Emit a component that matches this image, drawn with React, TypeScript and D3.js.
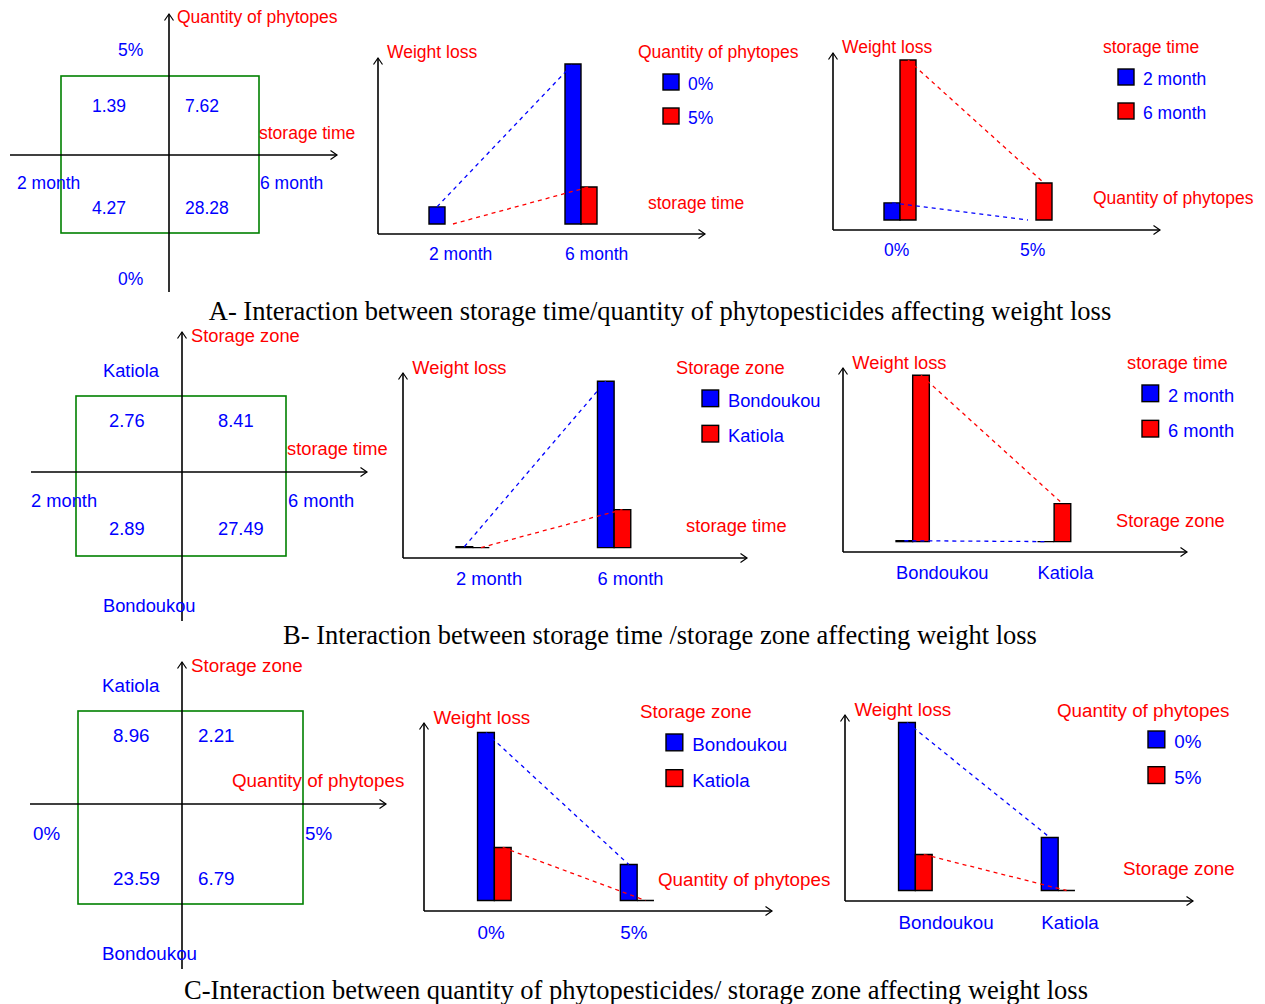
import React from "react";
import * as d3 from "d3";

// ---- categories ----
const storageTime = ["2 month", "6 month"];
const phytoQty = ["0%", "5%"];
const storageZone = ["Bondoukou", "Katiola"];

// ---- weight loss means ----
// A: by quantity of phytopesticides, values per storage time (2 month, 6 month)
const lossA_qty0 = [4.27, 28.28];
const lossA_qty5 = [1.39, 7.62];
// B: by storage zone, values per storage time (2 month, 6 month)
const lossB_bondoukou = [2.89, 27.49];
const lossB_katiola = [2.76, 8.41];
// C: by storage zone, values per quantity (0%, 5%)
const lossC_bondoukou = [23.59, 6.79];
const lossC_katiola = [8.96, 2.21];

const captions = [
  "A- Interaction between storage time/quantity of phytopesticides affecting weight loss",
  "B- Interaction between storage time /storage zone affecting weight loss",
  "C-Interaction between quantity of phytopesticides/ storage zone affecting weight loss",
];

const BLUE = "#0000ff";
const RED = "#ff0000";
const GREEN = "#008000";
const FONT = "'Liberation Sans', Arial, sans-serif";
const SERIES_COLORS = [BLUE, RED];

// ---- layouts ----
const quadLayouts = [
  { vx: 169, vTop: 14, vBottom: 292, hy: 155, hLeft: 10, hRight: 337, rect: [61, 76, 259, 233], yTitle: [177, 17], xTitle: [259, 133], topCat: [118, 50], bottomCat: [118, 279], leftCat: [17, 183], rightCat: [260, 183], colX: [92, 185], rowY: [208, 106], fs: 17.5 },
  { vx: 182, vTop: 332, vBottom: 621, hy: 472, hLeft: 31, hRight: 367, rect: [76, 396, 286, 556], yTitle: [191, 335], xTitle: [287, 448], topCat: [103, 370], bottomCat: [103, 605], leftCat: [31, 500], rightCat: [288, 500], colX: [109, 218], rowY: [528, 420], fs: 18.3 },
  { vx: 182, vTop: 662, vBottom: 969, hy: 804, hLeft: 30, hRight: 386, rect: [78, 711, 303, 904], yTitle: [191, 665], xTitle: [232, 780], topCat: [102, 685], bottomCat: [102, 953], leftCat: [33, 833], rightCat: [305, 833], colX: [113, 198], rowY: [878, 735], fs: 18.8 },
];

const barLayouts = [
  { x0: 378, yTop: 58, yAxis: 234, xEnd: 705, s: 1, xTitle: [648, 203], legTitle: [638, 52], swatchX: 663, swatchY: 74, fs: 17.5, showZero: false },
  { x0: 833, yTop: 53, yAxis: 230, xEnd: 1160, s: 1, xTitle: [1093, 198], legTitle: [1103, 47], swatchX: 1118, swatchY: 69, fs: 17.5, showZero: false },
  { x0: 403, yTop: 373, yAxis: 558, xEnd: 747, s: 1.04, xTitle: [686, 525], legTitle: [676, 367], swatchX: 702, swatchY: 390, fs: 18.3, showZero: true },
  { x0: 843, yTop: 368, yAxis: 552, xEnd: 1187, s: 1.04, xTitle: [1116, 520], legTitle: [1127, 362], swatchX: 1142, swatchY: 385, fs: 18.3, showZero: true },
  { x0: 424, yTop: 723, yAxis: 911, xEnd: 772, s: 1.05, xTitle: [658, 879], legTitle: [640, 711], swatchX: 666, swatchY: 734, fs: 18.8, showZero: true },
  { x0: 845, yTop: 715, yAxis: 901, xEnd: 1193, s: 1.05, xTitle: [1123, 868], legTitle: [1057, 710], swatchX: 1148, swatchY: 731, fs: 18.8, showZero: true },
];

const captionPos = [
  [660, 311],
  [660, 635],
  [636, 990],
];

type Series = { name: string; values: number[] };

function T({ x, y, fill, fs, children, anchor = "start" }: any) {
  return (
    <text x={x} y={y} fill={fill} fontSize={fs} fontFamily={FONT} dominantBaseline="central" textAnchor={anchor}>
      {children}
    </text>
  );
}

function UpArrowAxis({ x, y1, y2 }: any) {
  return (
    <g stroke="#000" strokeWidth={1.6} fill="none">
      <line x1={x} y1={y2} x2={x} y2={y1} />
      <path d={`M${x - 4.5},${y1 + 6.5}L${x},${y1}L${x + 4.5},${y1 + 6.5}`} strokeWidth={1.2} />
    </g>
  );
}

function RightArrowAxis({ y, x1, x2 }: any) {
  return (
    <g stroke="#000" strokeWidth={1.6} fill="none">
      <line x1={x1} y1={y} x2={x2} y2={y} />
      <path d={`M${x2 - 6.5},${y - 4.5}L${x2},${y}L${x2 - 6.5},${y + 4.5}`} strokeWidth={1.2} />
    </g>
  );
}

function QuadPanel({ L, xCats, yCats, matrix, xTitle, yTitle }: any) {
  const fmt = d3.format(".2f");
  const [rx1, ry1, rx2, ry2] = L.rect;
  return (
    <g>
      <rect x={rx1} y={ry1} width={rx2 - rx1} height={ry2 - ry1} fill="none" stroke={GREEN} strokeWidth={1.6} />
      <UpArrowAxis x={L.vx} y1={L.vTop} y2={L.vBottom} />
      <RightArrowAxis y={L.hy} x1={L.hLeft} x2={L.hRight} />
      <T x={L.yTitle[0]} y={L.yTitle[1]} fill={RED} fs={L.fs}>{yTitle}</T>
      <T x={L.xTitle[0]} y={L.xTitle[1]} fill={RED} fs={L.fs}>{xTitle}</T>
      <T x={L.topCat[0]} y={L.topCat[1]} fill={BLUE} fs={L.fs}>{yCats[1]}</T>
      <T x={L.bottomCat[0]} y={L.bottomCat[1]} fill={BLUE} fs={L.fs}>{yCats[0]}</T>
      <T x={L.leftCat[0]} y={L.leftCat[1]} fill={BLUE} fs={L.fs}>{xCats[0]}</T>
      <T x={L.rightCat[0]} y={L.rightCat[1]} fill={BLUE} fs={L.fs}>{xCats[1]}</T>
      {matrix.map((row: number[], ri: number) =>
        row.map((v: number, ci: number) => (
          <T key={`${ri}-${ci}`} x={L.colX[ci]} y={L.rowY[ri]} fill={BLUE} fs={L.fs}>{fmt(v)}</T>
        ))
      )}
    </g>
  );
}

function BarPanel({ L, groups, series, legendTitle, xTitle }: { L: any; groups: string[]; series: Series[]; legendTitle: string; xTitle: string }) {
  const s = L.s;
  const all = series.flatMap((d) => d.values);
  const base = L.yAxis - 10 * s;
  const y = d3.scaleLinear().domain([d3.min(all) as number, d3.max(all) as number]).range([base, base - 160 * s]);
  const gx = d3.scalePoint<string>().domain(groups).range([L.x0 + 51 * s, L.x0 + 51 * s + 136 * s]);
  const bw = 16 * s;
  const bx = (g: string, i: number) => (gx(g) as number) + i * bw;
  const sw = 16 * s;
  return (
    <g>
      <UpArrowAxis x={L.x0} y1={L.yTop} y2={L.yAxis} />
      <RightArrowAxis y={L.yAxis} x1={L.x0} x2={L.xEnd} />
      <T x={L.x0 + 9 * s} y={L.yTop - 6} fill={RED} fs={L.fs}>Weight loss</T>
      <T x={L.xTitle[0]} y={L.xTitle[1]} fill={RED} fs={L.fs}>{xTitle}</T>
      {groups.map((g) => (
        <T key={g} x={gx(g)} y={L.yAxis + 20 * s} fill={BLUE} fs={L.fs}>{g}</T>
      ))}
      {series.map((se, i) =>
        se.values.map((v, gi) => {
          const h = Math.max(base - y(v), 0);
          if (h < 0.01 && !L.showZero) return null;
          const x = bx(groups[gi], i);
          return (
            <path
              key={`${i}-${gi}`}
              d={`M${x},${y(v)}h${bw}v${h}h${-bw}Z`}
              fill={SERIES_COLORS[i]}
              stroke="#000"
              strokeWidth={1.4}
            />
          );
        })
      )}
      {series.map((se, i) => (
        <line
          key={`d${i}`}
          x1={bx(groups[0], i) + bw / 2}
          y1={y(se.values[0])}
          x2={bx(groups[1], i) + bw / 2}
          y2={y(se.values[1])}
          stroke={SERIES_COLORS[i]}
          strokeWidth={1.3}
          strokeDasharray="4,4"
        />
      ))}
      <T x={L.legTitle[0]} y={L.legTitle[1]} fill={RED} fs={L.fs}>{legendTitle}</T>
      {series.map((se, i) => {
        const yy = L.swatchY + i * 34 * s;
        return (
          <g key={`l${i}`}>
            <rect x={L.swatchX} y={yy} width={sw} height={sw} fill={SERIES_COLORS[i]} stroke="#000" strokeWidth={1.4} />
            <T x={L.swatchX + 25 * s} y={yy + sw / 2 + 2} fill={BLUE} fs={L.fs}>{se.name}</T>
          </g>
        );
      })}
    </g>
  );
}

export default function App() {
  const quadData = [
    { xCats: storageTime, yCats: phytoQty, matrix: [lossA_qty0, lossA_qty5], xTitle: "storage time", yTitle: "Quantity of phytopes" },
    { xCats: storageTime, yCats: storageZone, matrix: [lossB_bondoukou, lossB_katiola], xTitle: "storage time", yTitle: "Storage zone" },
    { xCats: phytoQty, yCats: storageZone, matrix: [lossC_bondoukou, lossC_katiola], xTitle: "Quantity of phytopes", yTitle: "Storage zone" },
  ];

  const barData = [
    {
      groups: storageTime,
      series: [
        { name: phytoQty[0], values: lossA_qty0 },
        { name: phytoQty[1], values: lossA_qty5 },
      ],
      legendTitle: "Quantity of phytopes",
      xTitle: "storage time",
    },
    {
      groups: phytoQty,
      series: storageTime.map((t, ti) => ({ name: t, values: [lossA_qty0[ti], lossA_qty5[ti]] })),
      legendTitle: "storage time",
      xTitle: "Quantity of phytopes",
    },
    {
      groups: storageTime,
      series: [
        { name: storageZone[0], values: lossB_bondoukou },
        { name: storageZone[1], values: lossB_katiola },
      ],
      legendTitle: "Storage zone",
      xTitle: "storage time",
    },
    {
      groups: storageZone,
      series: storageTime.map((t, ti) => ({ name: t, values: [lossB_bondoukou[ti], lossB_katiola[ti]] })),
      legendTitle: "storage time",
      xTitle: "Storage zone",
    },
    {
      groups: phytoQty,
      series: [
        { name: storageZone[0], values: lossC_bondoukou },
        { name: storageZone[1], values: lossC_katiola },
      ],
      legendTitle: "Storage zone",
      xTitle: "Quantity of phytopes",
    },
    {
      groups: storageZone,
      series: phytoQty.map((q, qi) => ({ name: q, values: [lossC_bondoukou[qi], lossC_katiola[qi]] })),
      legendTitle: "Quantity of phytopes",
      xTitle: "Storage zone",
    },
  ];

  return (
    <svg width={1265} height={1004} style={{ position: "absolute", left: 0, top: 0, background: "#fff" }}>
      <rect x={0} y={0} width={1265} height={1004} fill="#fff" />
      {quadData.map((d, i) => (
        <QuadPanel key={`q${i}`} L={quadLayouts[i]} {...d} />
      ))}
      {barData.map((d, i) => (
        <BarPanel key={`b${i}`} L={barLayouts[i]} {...d} />
      ))}
      {captions.map((c, i) => (
        <text key={`c${i}`} x={captionPos[i][0]} y={captionPos[i][1]} fontSize={26.5} fontFamily="'Liberation Serif', 'Times New Roman', serif" textAnchor="middle" dominantBaseline="central" fill="#000">
          {c}
        </text>
      ))}
    </svg>
  );
}
